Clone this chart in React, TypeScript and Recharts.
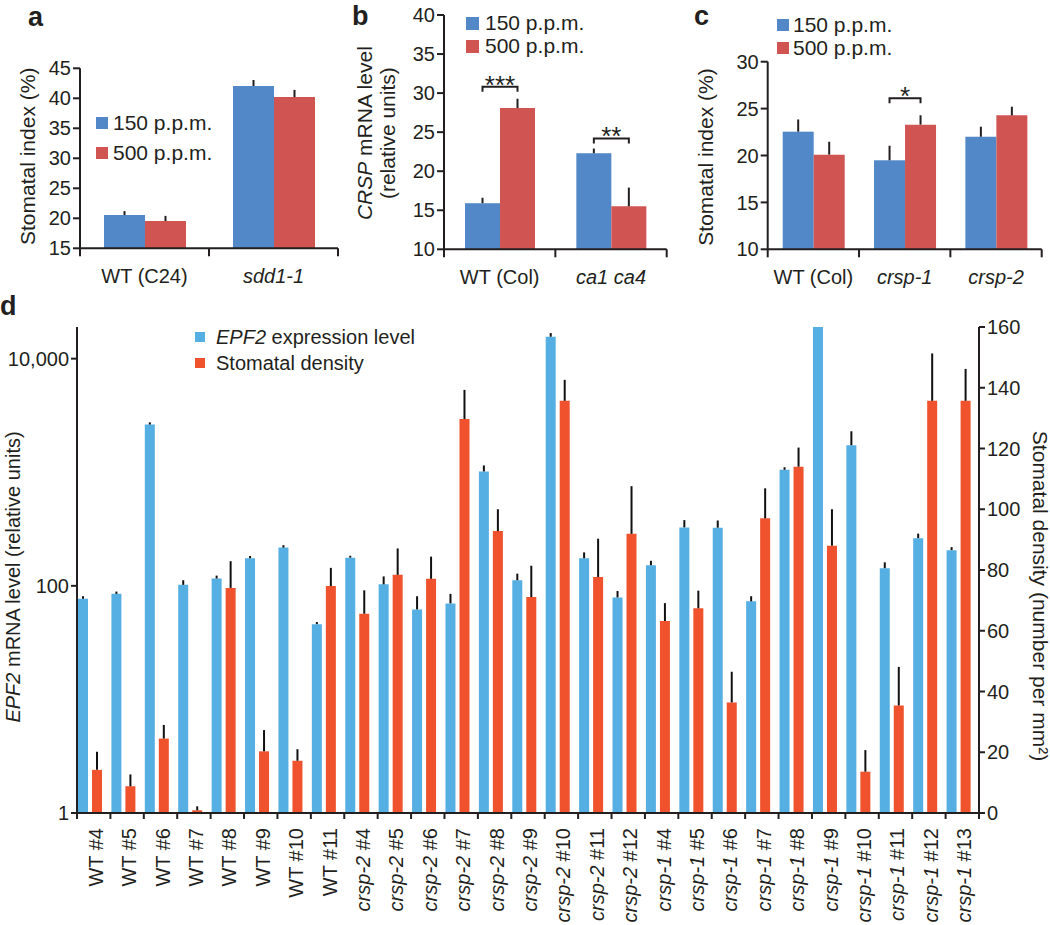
import React from 'react';
import { BarChart, Bar, XAxis, YAxis, ErrorBar, Legend } from 'recharts';

const FONT = '"Liberation Sans", Arial, Helvetica, sans-serif';
const INK = '#231f20';
const BLUE = '#5288c7';
const RED = '#d05452';
const D_BLUE = '#56afe2';
const D_RED = '#ef522c';

// ---------- panel a ----------
const aCategories = ['WT (C24)', 'sdd1-1'];
const a150 = [20.55, 42.05];
const a150Err = [0.65, 1.0];
const a500 = [19.55, 40.2];
const a500Err = [0.85, 1.2];
const aTicks = [15, 20, 25, 30, 35, 40, 45];

// ---------- panel b ----------
const bCategories = ['WT (Col)', 'ca1 ca4'];
const b150 = [15.9, 22.3];
const b150Err = [0.7, 0.6];
const b500 = [28.08, 15.5];
const b500Err = [1.2, 2.4];
const bBracket = [30.8, 24.2];
const bStars = ['***', '**'];
const bTicks = [10, 15, 20, 25, 30, 35, 40];

// ---------- panel c ----------
const cCategories = ['WT (Col)', 'crsp-1', 'crsp-2'];
const c150 = [22.54, 19.49, 22.0];
const c150Err = [1.3, 1.55, 1.07];
const c500 = [20.09, 23.29, 24.28];
const c500Err = [1.38, 1.0, 0.92];
const cBracket = [null, 26.1, null];
const cStars = ['', '*', ''];
const cTicks = [10, 15, 20, 25, 30];

const seriesNames = ['150 p.p.m.', '500 p.p.m.'];

// ---------- panel d ----------
const dCategories = [
  'WT #4', 'WT #5', 'WT #6', 'WT #7', 'WT #8', 'WT #9', 'WT #10', 'WT #11',
  'crsp-2 #4', 'crsp-2 #5', 'crsp-2 #6', 'crsp-2 #7', 'crsp-2 #8', 'crsp-2 #9', 'crsp-2 #10', 'crsp-2 #11', 'crsp-2 #12',
  'crsp-1 #4', 'crsp-1 #5', 'crsp-1 #6', 'crsp-1 #7', 'crsp-1 #8', 'crsp-1 #9', 'crsp-1 #10', 'crsp-1 #11', 'crsp-1 #12', 'crsp-1 #13',
];
const dEpf2 = [77, 85, 2630, 102, 116, 175, 217, 46, 177, 103, 62, 70, 1016, 112, 15600, 175, 79, 152, 327, 325, 73, 1051, 30000, 1730, 143, 263, 206];
const dEpf2Err = [4, 4, 120, 10, 7, 8, 11, 2, 7, 18, 19, 15, 132, 16, 1200, 22, 11, 14, 52, 51, 8, 56, 0, 566, 18, 25, 13];
const dDensity = [14.2, 8.8, 24.5, 0.9, 74.1, 20.3, 17.2, 74.7, 65.6, 78.4, 77.1, 129.7, 92.8, 71.1, 135.7, 77.7, 91.9, 63.2, 67.4, 36.4, 97.0, 114.0, 88.0, 13.6, 35.4, 135.7, 135.7];
const dDensityErr = [6.0, 3.9, 4.5, 1.3, 8.8, 7.0, 3.8, 6.0, 7.7, 8.7, 7.3, 9.6, 7.2, 10.3, 6.9, 12.6, 15.7, 5.9, 5.8, 10.1, 9.9, 6.3, 12.0, 7.1, 12.7, 15.6, 10.5];
const dLeftTicks = [1, 100, 10000];
const dRightTicks = [0, 20, 40, 60, 80, 100, 120, 140, 160];
const dSeriesNames = ['EPF2 expression level', 'Stomatal density'];

// ---------- tables ----------
const aData = aCategories.map((name, i) => ({
  name, lo: a150[i], loErr: [0, a150Err[i]], hi: a500[i], hiErr: [0, a500Err[i]],
}));
const bData = bCategories.map((name, i) => ({
  name, lo: b150[i], loErr: [0, b150Err[i]], hi: b500[i], hiErr: [0, b500Err[i]], br: bBracket[i], star: bStars[i],
}));
const cData = cCategories.map((name, i) => ({
  name, lo: c150[i], loErr: [0, c150Err[i]], hi: c500[i], hiErr: [0, c500Err[i]], br: cBracket[i], star: cStars[i],
}));
const dData = dCategories.map((name, i) => ({
  name, epf: dEpf2[i], epfErr: [0, dEpf2Err[i]], den: dDensity[i], denErr: [0, dDensityErr[i]],
}));

const AXIS_W = 60;
const AXIS_H = 30;

// ---------- helpers ----------
function renderCat(label: string) {
  if (label.startsWith('WT')) return label;
  const idx = label.indexOf(' #');
  if (idx < 0) return <tspan fontStyle="italic">{label}</tspan>;
  return (
    <>
      <tspan fontStyle="italic">{label.slice(0, idx)}</tspan>
      <tspan>{label.slice(idx)}</tspan>
    </>
  );
}

function renderName(v: string) {
  if (v.startsWith('EPF2')) {
    return (
      <>
        <i>EPF2</i>
        {v.slice(4)}
      </>
    );
  }
  return v;
}

const catTick = (count: number, labelDy: number) => (props: any) => {
  const { x, y, payload, index } = props;
  const half = typeof payload?.offset === 'number' ? payload.offset : 0;
  return (
    <g>
      <line x1={x - half} x2={x - half} y1={y} y2={y + 8} stroke={INK} strokeWidth={2} />
      {index === count - 1 ? <line x1={x + half} x2={x + half} y1={y} y2={y + 8} stroke={INK} strokeWidth={2} /> : null}
      <text x={x} y={y + labelDy} textAnchor="middle" fontSize={20} fill={INK} fontFamily={FONT}>
        {renderCat(String(payload.value))}
      </text>
    </g>
  );
};

const rotTick = (count: number) => (props: any) => {
  const { x, y, payload, index } = props;
  const half = typeof payload?.offset === 'number' ? payload.offset : 0;
  return (
    <g>
      <line x1={x - half} x2={x - half} y1={y} y2={y + 6} stroke={INK} strokeWidth={2} />
      {index === count - 1 ? <line x1={x + half} x2={x + half} y1={y} y2={y + 6} stroke={INK} strokeWidth={2} /> : null}
      <text transform={`translate(${x},${y + 15}) rotate(-90)`} textAnchor="end" dy="0.45em" fontSize={20} fill={INK} fontFamily={FONT}>
        {renderCat(String(payload.value))}
      </text>
    </g>
  );
};

// dx is measured from the axis line (left axis: right edge of its box; right axis: left edge)
const yTitle = (lines: React.ReactNode[], side: 'left' | 'right', dx: number, dy: number, angle: number, lineStep = 0, fontSize = 21) => (props: any) => {
  const vb = props.viewBox || { x: 0, y: 0, width: 0, height: 0 };
  const axisX = side === 'left' ? vb.x + vb.width : vb.x;
  const cy = vb.y + vb.height / 2 + dy;
  return (
    <g>
      {lines.map((ln, i) => {
        const cx = axisX + dx + i * lineStep;
        return (
          <text key={i} x={cx} y={cy} transform={`rotate(${angle} ${cx} ${cy})`} textAnchor="middle" dominantBaseline="central" fontSize={fontSize} fill={INK} fontFamily={FONT}>
            {ln}
          </text>
        );
      })}
    </g>
  );
};

const makeLegend = (o: { fontSize: number; rowH: number; sq: number; gap: number }) => (props: any) => {
  const items = (props.payload || []).filter((e: any) => e.type !== 'none');
  return (
    <div style={{ fontFamily: FONT, fontSize: o.fontSize, color: INK }}>
      {items.map((e: any) => (
        <div key={String(e.value)} style={{ display: 'flex', alignItems: 'center', height: o.rowH, whiteSpace: 'nowrap' }}>
          <span style={{ display: 'inline-block', width: o.sq, height: o.sq, background: e.color, marginRight: o.gap }} />
          <span>{renderName(String(e.value))}</span>
        </div>
      ))}
    </div>
  );
};

const bracketShape = (base: number, color: string) => (p: any) => {
  const { x, y, width, height, payload } = p;
  const rect = <rect x={x} y={y} width={width} height={height} fill={color} />;
  if (payload == null || payload.br == null) return rect;
  const v = payload.lo;
  const ppu = height / (v - base);
  const yb = y + height - (payload.br - base) * ppu;
  const x1 = x + width / 2;
  const x2 = x + width * 1.5;
  return (
    <g>
      {rect}
      <path d={`M${x1},${yb + 5}V${yb}H${x2}V${yb + 5}`} fill="none" stroke={INK} strokeWidth={2} />
      <text x={(x1 + x2) / 2} y={yb + 7} textAnchor="middle" fontSize={26} fill={INK} fontFamily={FONT}>
        {payload.star}
      </text>
    </g>
  );
};

const axisStroke = { stroke: INK, strokeWidth: 2 };
const tickFont = { fontSize: 20, fill: INK, fontFamily: FONT };

function SmallPanel(props: {
  data: any[];
  width: number;
  height: number;
  plot: { top: number; right: number; bottom: number; left: number };
  domain: [number, number];
  ticks: number[];
  barSize: number;
  title: any;
  legend: { left: number; top: number; fontSize: number; rowH: number; sq: number; gap: number };
  brackets?: boolean;
}) {
  const { data, width, height, plot, domain, ticks, barSize, title, legend, brackets } = props;
  const margin = { top: plot.top, right: plot.right, bottom: plot.bottom - AXIS_H, left: plot.left - AXIS_W };
  return (
    <BarChart width={width} height={height} data={data} margin={margin} barGap={0}>
      <XAxis dataKey="name" type="category" height={AXIS_H} tickSize={0} tickMargin={0} tickLine={false} axisLine={axisStroke} interval={0} tick={catTick(data.length, 34.5)} />
      <YAxis type="number" domain={domain} ticks={ticks} interval={0} width={AXIS_W} tickSize={7} tickMargin={2} allowDataOverflow axisLine={axisStroke} tickLine={axisStroke} tick={tickFont} label={title} />
      <Legend
        layout="vertical"
        align="center"
        verticalAlign="middle"
        wrapperStyle={{ left: legend.left, top: legend.top, width: 'auto' }}
        content={makeLegend(legend)}
      />
      <Bar dataKey="lo" name={seriesNames[0]} fill={BLUE} barSize={barSize} isAnimationActive={false} shape={brackets ? bracketShape(domain[0], BLUE) : undefined}>
        <ErrorBar dataKey="loErr" direction="y" width={0} stroke={INK} strokeWidth={2} />
      </Bar>
      <Bar dataKey="hi" name={seriesNames[1]} fill={RED} barSize={barSize} isAnimationActive={false}>
        <ErrorBar dataKey="hiErr" direction="y" width={0} stroke={INK} strokeWidth={2} />
      </Bar>
    </BarChart>
  );
}

export default function App() {
  return (
    <div style={{ position: 'absolute', left: 0, top: 0, width: 1050, height: 925, background: '#fff', fontFamily: FONT }}>
      <div style={{ position: 'absolute', left: 0, top: 0 }}>
        <SmallPanel
          data={aData}
          width={350}
          height={300}
          plot={{ top: 68.3, right: 12, bottom: 51.7, left: 80 }}
          domain={[15, 45]}
          ticks={aTicks}
          barSize={41}
          title={yTitle(['Stomatal index (%)'], 'left', -52, -2, -90)}
          legend={{ left: 96, top: 107.5, fontSize: 21, rowH: 30, sq: 12, gap: 5 }}
        />
      </div>
      <div style={{ position: 'absolute', left: 340, top: 0 }}>
        <SmallPanel
          data={bData}
          width={340}
          height={300}
          plot={{ top: 15, right: 13.3, bottom: 50.7, left: 104 }}
          domain={[10, 40]}
          ticks={bTicks}
          barSize={35}
          brackets
          title={yTitle([
            <>
              <tspan fontStyle="italic">CRSP</tspan>
              <tspan> mRNA level</tspan>
            </>,
            '(relative units)',
          ], 'left', -80, 1, -90, 24)}
          legend={{ left: 126, top: 11.8, fontSize: 21, rowH: 23, sq: 13, gap: 6 }}
        />
      </div>
      <div style={{ position: 'absolute', left: 690, top: 0 }}>
        <SmallPanel
          data={cData}
          width={360}
          height={300}
          plot={{ top: 61.7, right: 8.3, bottom: 50.7, left: 77.7 }}
          domain={[10, 30]}
          ticks={cTicks}
          barSize={31}
          brackets
          title={yTitle(['Stomatal index (%)'], 'left', -62.7, 1.5, -90)}
          legend={{ left: 87, top: 13.75, fontSize: 21, rowH: 22.5, sq: 12, gap: 4 }}
        />
      </div>
      <div style={{ position: 'absolute', left: 0, top: 280 }}>
        <BarChart width={1050} height={645} data={dData} margin={{ top: 47, right: 71 - AXIS_W, bottom: 112 - AXIS_H, left: 77 - AXIS_W }} barGap={4}>
          <XAxis dataKey="name" type="category" height={AXIS_H} tickSize={0} tickMargin={0} tickLine={false} axisLine={axisStroke} interval={0} tick={rotTick(dData.length)} />
          <YAxis
            yAxisId="L"
            orientation="left"
            type="number"
            scale="log"
            domain={[1, 19000]}
            allowDataOverflow
            ticks={dLeftTicks}
            interval={0}
            width={AXIS_W}
            tickSize={6}
            tickMargin={2}
            axisLine={axisStroke}
            tickLine={axisStroke}
            tick={tickFont}
            tickFormatter={(v: number) => Number(v).toLocaleString('en-US')}
            label={yTitle([
              <>
                <tspan fontStyle="italic">EPF2</tspan>
                <tspan> mRNA level (relative units)</tspan>
              </>,
            ], 'left', -64.5, 7, -90, 0, 20)}
          />
          <YAxis
            yAxisId="R"
            orientation="right"
            type="number"
            domain={[0, 160]}
            allowDataOverflow
            ticks={dRightTicks}
            interval={0}
            width={AXIS_W}
            tickSize={6}
            tickMargin={2}
            axisLine={axisStroke}
            tickLine={axisStroke}
            tick={tickFont}
            label={yTitle(['Stomatal density (number per mm²)'], 'right', 61, 26, 90, 0, 21)}
          />
          <Legend
            layout="vertical"
            align="center"
            verticalAlign="middle"
            wrapperStyle={{ left: 195, top: 44.3, width: 'auto' }}
            content={makeLegend({ fontSize: 20, rowH: 26, sq: 10, gap: 11 })}
          />
          <Bar yAxisId="L" dataKey="epf" name={dSeriesNames[0]} fill={D_BLUE} barSize={10} isAnimationActive={false}>
            <ErrorBar dataKey="epfErr" direction="y" width={0} stroke="#111" strokeWidth={2} />
          </Bar>
          <Bar yAxisId="R" dataKey="den" name={dSeriesNames[1]} fill={D_RED} barSize={10} isAnimationActive={false}>
            <ErrorBar dataKey="denErr" direction="y" width={0} stroke="#111" strokeWidth={2} />
          </Bar>
          <Bar yAxisId="R" dataKey="pad" legendType="none" fill="transparent" barSize={3} isAnimationActive={false} />
        </BarChart>
      </div>
      <svg width={1050} height={925} style={{ position: 'absolute', left: 0, top: 0, pointerEvents: 'none' }}>
        <g fontFamily={FONT} fontWeight="bold" fontSize={27} fill={INK}>
          <text x={28} y={26}>a</text>
          <text x={352} y={25}>b</text>
          <text x={694} y={25}>c</text>
          <text x={0} y={315}>d</text>
        </g>
      </svg>
    </div>
  );
}
